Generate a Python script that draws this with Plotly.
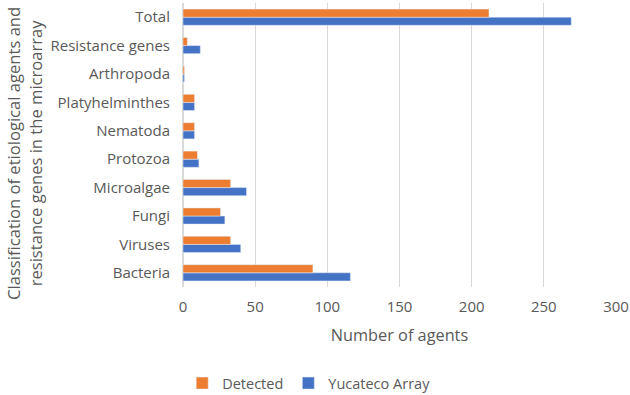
import plotly.graph_objects as go

categories = ["Bacteria", "Viruses", "Fungi", "Microalgae", "Protozoa", "Nematoda",
              "Platyhelminthes", "Arthropoda", "Resistance genes", "Total"]
detected = [90, 33, 26, 33, 10, 8, 8, 1, 3, 212]
yucateco = [116, 40, 29, 44, 11, 8, 8, 1, 12, 269]
x_ticks = [0, 50, 100, 150, 200, 250, 300]

font_family = "Open Sans, Noto Sans, sans-serif"
txt = "#595959"

fig = go.Figure()
fig.add_trace(go.Bar(y=categories, x=yucateco, name="Yucateco Array", orientation="h",
                     marker_color="#4472C4", legendrank=2))
fig.add_trace(go.Bar(y=categories, x=detected, name="Detected", orientation="h",
                     marker_color="#ED7D31", legendrank=1))

fig.update_layout(
    width=630, height=395,
    margin=dict(l=183, r=14, t=3, b=108, autoexpand=False),
    paper_bgcolor="white", plot_bgcolor="white",
    barmode="group", bargap=0.43, bargroupgap=0,
    font=dict(family=font_family, color=txt, size=14),
    showlegend=True,
    legend=dict(orientation="h", xref="container", x=0.49, xanchor="center",
                yref="container", y=0.03, yanchor="middle",
                font=dict(size=14.5, color=txt), itemwidth=30, traceorder="normal"),
    xaxis=dict(range=[0, 300], tickvals=x_ticks, showgrid=True, gridcolor="#D9D9D9",
               gridwidth=1, zeroline=True, zerolinecolor="#D9D9D9", showline=False,
               tickfont=dict(size=15, color=txt), ticks="", ticklen=0, automargin=False,
               ticklabelstandoff=9,
               title=dict(text="Number of agents", font=dict(size=16.3, color=txt), standoff=14)),
    yaxis=dict(showgrid=False, zeroline=False, showline=False, ticks="", automargin=False,
               tickfont=dict(size=15, color=txt), ticklabelstandoff=12),
)
fig.add_annotation(text="Classification of etiological agents and<br>resistance genes in the microarray",
                   xref="paper", yref="paper", x=-0.365, y=0.472, xanchor="center", yanchor="middle",
                   textangle=-90, showarrow=False, font=dict(size=16.6, color=txt))

fig.write_html("out.html", config={"displayModeBar": False},
               post_script="document.body.style.margin='0';document.body.style.padding='0';")
